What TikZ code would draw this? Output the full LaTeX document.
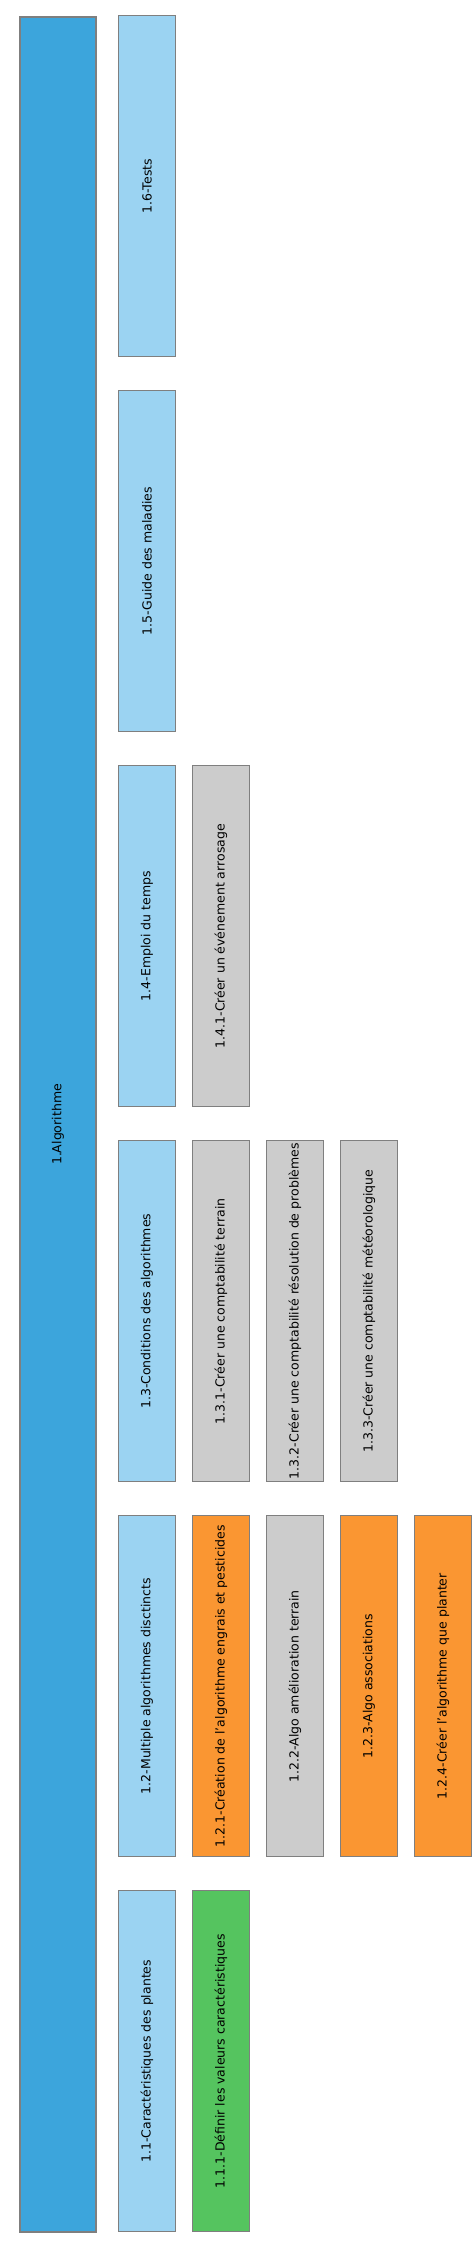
\documentclass[tikz,border=0pt]{standalone}
\usepackage{fontspec}
\setmainfont{DejaVu Sans}
\usetikzlibrary{positioning}
\definecolor{rootblue}{HTML}{3CA5DC}
\definecolor{phaseblue}{HTML}{9BD3F2}
\definecolor{taskgray}{HTML}{CCCCCC}
\definecolor{taskorange}{HTML}{FA9632}
\definecolor{taskgreen}{HTML}{55C45F}
\definecolor{edgegray}{HTML}{7F7F7F}
\tikzset{
  wbsbox/.style    = {rectangle, draw=edgegray, line width=1.2pt, rotate=90,
                      inner sep=1pt, font=\fontsize{12.5}{14}\selectfont,
                      minimum width=341pt, minimum height=56.5pt},
  rootbox/.style   = {wbsbox, fill=rootblue, minimum width=2215pt, minimum height=76pt},
  phasebox/.style  = {wbsbox, fill=phaseblue},
  graytask/.style  = {wbsbox, fill=taskgray},
  orangetask/.style= {wbsbox, fill=taskorange},
  greentask/.style = {wbsbox, fill=taskgreen},
}

\begin{document}
\begin{tikzpicture}[x=1pt,y=-1pt]
  \useasboundingbox (0,0) rectangle (474,2252);
  \node[rootbox] (algo) at (58,1124.5) {1.Algorithme};

  \node[phasebox] (p11) at (147,2061.2) {1.1-Caractéristiques des plantes};
  \node[phasebox] (p12) at (147,1686.2) {1.2-Multiple algorithmes disctincts};
  \node[phasebox] (p13) at (147,1311.2) {1.3-Conditions des algorithmes};
  \node[phasebox] (p14) at (147,936.2)  {1.4-Emploi du temps};
  \node[phasebox] (p15) at (147,561.2)  {1.5-Guide des maladies};
  \node[phasebox] (p16) at (147,186.2)  {1.6-Tests};

  \node[greentask]  (t111) at (221,2061.2) {1.1.1-Définir les valeurs caractéristiques};

  \node[orangetask] (t121) at (221,1686.2) {1.2.1-Création de l'algorithme engrais et pesticides};
  \node[graytask]   (t122) at (295,1686.2) {1.2.2-Algo amélioration terrain};
  \node[orangetask] (t123) at (369,1686.2) {1.2.3-Algo associations};
  \node[orangetask] (t124) at (443,1686.2) {1.2.4-Créer l'algorithme que planter};

  \node[graytask] (t131) at (221,1311.2) {1.3.1-Créer une comptabilité terrain};
  \node[graytask] (t132) at (295,1311.2) {1.3.2-Créer une comptabilité résolution de problèmes};
  \node[graytask] (t133) at (369,1311.2) {1.3.3-Créer une comptabilité météorologique};

  \node[graytask] (t141) at (221,936.2) {1.4.1-Créer un événement arrosage};
\end{tikzpicture}
\end{document}
